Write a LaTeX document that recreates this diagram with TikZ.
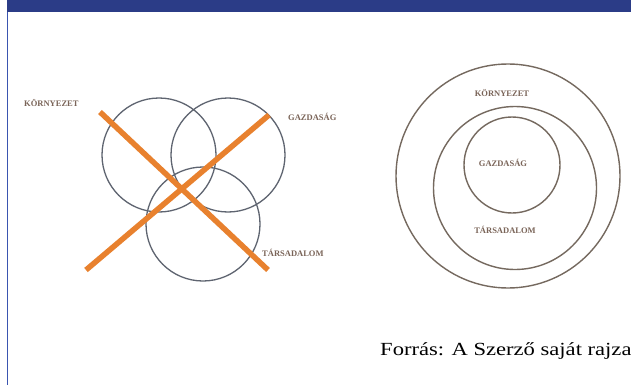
\documentclass[tikz,border=0pt]{standalone}
\usepackage{fontspec}
\setmainfont{Liberation Serif}
\definecolor{barblue}{HTML}{2B3C87}
\definecolor{lineblue}{HTML}{3A55B0}
\definecolor{xorange}{HTML}{E8812E}
\definecolor{ringgray}{HTML}{75695F}
\definecolor{vgray}{HTML}{5E6470}
\definecolor{labelbrown}{HTML}{7A6458}
\tikzset{
  ring/.style={draw=ringgray, line width=1.4pt},
  vring/.style={draw=vgray, line width=1.3pt},
  cross/.style={draw=xorange, line width=5.5pt},
  lbl/.style={text=labelbrown, font=\fontsize{8.5}{9}\selectfont\bfseries, inner sep=0pt},
  caption/.style={font=\fontsize{18.5}{20}\selectfont, anchor=base west, inner sep=0pt}
}
\begin{document}
\begin{tikzpicture}[x=1pt,y=-1pt]
\useasboundingbox (0,0) rectangle (631,385);
\fill[white] (0,0) rectangle (631,385);
% top bar and left border
\fill[barblue] (7,0) rectangle (631,12);
\draw[lineblue, line width=1.6pt] (7.5,12) -- (7.5,385);
% left Venn diagram
\node[vring, circle, minimum size=114pt, inner sep=0pt] (kc) at (159,155) {};
\node[vring, circle, minimum size=114pt, inner sep=0pt] (gc) at (228,155) {};
\node[vring, circle, minimum size=114pt, inner sep=0pt] (tc) at (203,224) {};
\coordinate (a1) at (100,112);
\coordinate (a2) at (268,270);
\coordinate (b1) at (86,270);
\coordinate (b2) at (269,115);
\draw[cross] (a1) -- (a2);
\draw[cross] (b1) -- (b2);
\node[lbl, anchor=west] (kl) at (24,103) {KÖRNYEZET};
\node[lbl, anchor=west] (gl) at (288,117) {GAZDASÁG};
\node[lbl, anchor=west] (tl) at (262,253) {TÁRSADALOM};
% right nested diagram
\node[ring, circle, minimum size=224pt, inner sep=0pt] (ko) at (508,176) {};
\node[ring, circle, minimum size=163pt, inner sep=0pt] (to) at (515,188) {};
\node[ring, circle, minimum size=96pt, inner sep=0pt] (go) at (512,165) {};
\node[lbl] (kr) at (502,93) {KÖRNYEZET};
\node[lbl] (gr) at (503,163) {GAZDASÁG};
\node[lbl] (tr) at (505,230) {TÁRSADALOM};
% caption
\node[caption] (cap) at (380,355) {\scalebox{1.22}[1]{Forrás: A Szerző saját rajza}};
\end{tikzpicture}
\end{document}
